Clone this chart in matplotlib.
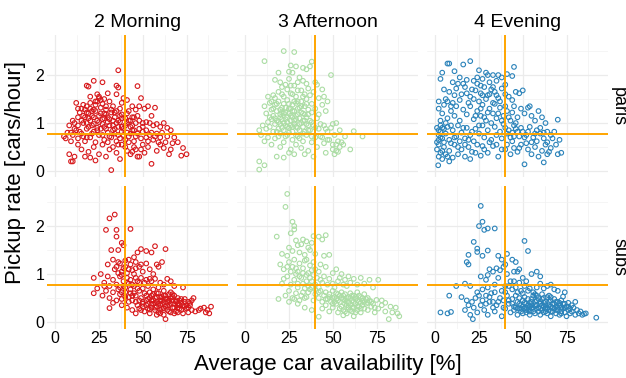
import numpy as np
import matplotlib
matplotlib.use("Agg")
import matplotlib.pyplot as plt
from matplotlib.ticker import MultipleLocator

plt.rcParams['font.family'] = ['Liberation Sans', 'DejaVu Sans']

# facet labels
periods = ["2 Morning", "3 Afternoon", "4 Evening"]
areas = ["paris", "subs"]
period_colors = ["#d7191c", "#abdda4", "#2b83ba"]

# reference lines
avail_ref = 40
rate_ref = 0.78

# (availability %, pickup rate)
paris_morning = [
    (22,1.88),(27,1.85),(18,1.78),(19,1.76),(35,1.78),(36,1.74),(36,2.1),(47,1.77),(24,1.6),(25,1.55),
    (30,1.62),(35,1.6),(39,1.52),(41,1.48),(49,1.52),(25,1.52),(28,1.5),(20,1.55),
    (12,1.42),(15,1.3),(17,1.28),(18,1.35),(20,1.42),(21,1.25),(23,1.38),(24,1.45),(26,1.32),(27,1.4),
    (29,1.28),(31,1.45),(33,1.35),(34,1.22),(37,1.3),(42,1.25),(44,1.35),(46,1.28),(48,1.35),(51,1.3),
    (53,1.35),(57,1.32),(14,1.22),(19,1.2),(22,1.28),(38,1.42),
    (8,0.95),(10,1.05),(11,1.0),(13,1.12),(15,1.05),(16,1.15),(18,1.0),(19,1.1),(21,0.95),(22,1.12),
    (24,1.05),(25,1.15),(27,0.98),(28,1.1),(29,1.18),(30,1.02),(31,1.08),(33,0.95),(34,1.12),(35,1.0),
    (36,1.05),(37,1.15),(38,0.92),(40,1.1),(41,1.0),(43,1.05),(44,0.95),(45,1.12),(46,1.0),(48,1.05),
    (50,0.92),(52,1.02),(54,1.0),(56,0.95),(58,0.98),(60,0.92),(62,1.0),(64,0.9),(66,0.85),(55,1.15),
    (5,0.72),(6,0.68),(7,0.8),(9,0.62),(10,0.75),(12,0.85),(13,0.68),(15,0.78),(17,0.62),(18,0.88),
    (20,0.7),(22,0.82),(23,0.6),(25,0.75),(26,0.88),(28,0.65),(30,0.8),(32,0.7),(33,0.85),(35,0.62),
    (36,0.75),(38,0.82),(40,0.65),(41,0.8),(42,0.72),(44,0.85),(45,0.62),(47,0.78),(49,0.68),(50,0.82),
    (52,0.7),(54,0.75),(56,0.65),(58,0.78),(60,0.7),(63,0.6),(67,0.58),(30,0.6),
    (8,0.35),(9,0.2),(10,0.2),(11,0.3),(13,0.55),(15,0.45),(17,0.3),(19,0.4),(20,0.28),(22,0.5),
    (23,0.22),(25,0.35),(27,0.55),(29,0.3),(31,0.45),(33,0.5),(35,0.38),(37,0.25),(38,0.55),(41,0.42),
    (43,0.35),(45,0.5),(47,0.3),(49,0.45),(51,0.38),(53,0.5),(55,0.15),(58,0.42),(60,0.55),(62,0.48),
    (65,0.35),(66,0.45),(70,0.6),(73,0.48),(75,0.35),(72,0.32),(32,0.02),(44,0.4),(48,0.3),
    (16,1.0),(17,1.12),(18,1.22),(19,0.92),(20,1.05),(21,1.15),(22,0.98),(23,1.25),(24,0.9),(25,1.02),
    (26,1.2),(27,1.08),(28,0.92),(29,1.35),(30,1.12),(31,0.95),(32,1.22),(33,1.05),(34,0.88),(35,1.25),
    (36,0.92),(37,1.02),(38,1.18),(39,0.88),(40,0.95),(41,1.2),(42,1.05),(43,0.92),(44,1.12),(45,0.85),
    (14,0.82),(16,0.72),(18,0.7),(21,0.78),(24,0.85),(27,0.75),(29,0.88),(31,0.72),(34,0.78),(37,0.68),
    (39,0.75),(43,0.78),(46,0.72),(48,0.88),(11,0.88),(9,0.8),(13,0.95),(20,1.3),(23,1.45),(26,1.48),
    (32,1.28),(16,1.38),(13,1.3),(28,1.2),(38,1.1),(47,1.15),(50,1.0),(52,0.85),(55,0.8),(57,0.72),
    (61,0.8),(59,0.6),(64,0.72),(68,0.7),(36,0.55),(40,0.5),(42,0.6),(46,0.45),(50,0.55),(53,0.62),
]

paris_afternoon = [
    (22,2.5),(28,2.48),(11,2.29),(38,2.28),(49,2.0),(26,2.2),(29,2.18),(33,2.15),(35,2.12),(37,2.18),
    (19,2.05),(27,2.05),(25,2.07),
    (17,1.9),(20,1.85),(23,1.8),(25,1.92),(28,1.78),(30,1.85),(31,1.95),(33,1.88),(35,1.82),(36,1.72),
    (40,1.85),(41,1.8),(44,1.7),(13,1.55),(16,1.58),(19,1.65),(21,1.6),(24,1.7),(26,1.62),(29,1.55),
    (32,1.68),(34,1.6),(37,1.58),(39,1.65),(45,1.55),(42,1.52),
    (11,1.35),(12,1.2),(14,1.42),(15,1.28),(16,1.15),(17,1.38),(18,1.25),(19,1.45),(20,1.18),(21,1.32),
    (22,1.4),(23,1.22),(24,1.48),(25,1.3),(26,1.15),(27,1.38),(28,1.25),(29,1.42),(30,1.18),(31,1.32),
    (32,1.45),(33,1.2),(34,1.35),(35,1.12),(36,1.28),(38,1.4),(40,1.3),(42,1.18),(44,1.38),(46,1.25),
    (47,1.45),(20,1.12),(24,1.12),
    (10,0.95),(12,0.88),(13,1.02),(14,0.92),(15,1.08),(16,0.82),(17,0.98),(18,1.05),(19,0.88),(20,0.98),
    (21,1.08),(22,0.85),(23,0.95),(24,1.02),(25,0.9),(26,1.05),(27,0.82),(28,0.98),(29,1.08),(30,0.9),
    (31,0.85),(32,1.0),(33,0.92),(34,1.05),(36,0.95),(37,0.85),(38,1.02),(40,0.9),(42,0.88),(45,0.95),
    (47,0.82),(50,0.98),(52,1.0),(49,0.9),(54,0.85),(62,0.83),(8,0.85),
    (9,0.75),(11,0.62),(13,0.7),(15,0.55),(17,0.68),(19,0.72),(20,0.5),(22,0.6),(24,0.75),(26,0.45),
    (27,0.65),(29,0.55),(30,0.72),(32,0.48),(33,0.62),(35,0.75),(36,0.42),(38,0.6),(40,0.7),(41,0.5),
    (43,0.72),(45,0.58),(47,0.65),(50,0.45),(52,0.55),(53,0.4),(55,0.6),(60,0.45),(67,0.72),(57,0.72),
    (54,0.5),
    (8,0.03),(8,0.2),(11,0.12),(18,0.3),(22,0.28),(25,0.38),(28,0.35),(34,0.35),(39,0.3),(46,0.38),
    (51,0.35),
    (16,1.3),(17,1.1),(18,1.4),(19,1.02),(20,1.28),(21,1.22),(22,1.0),(22,1.2),(23,1.32),(23,1.08),
    (24,0.92),(25,1.2),(25,1.4),(26,1.3),(26,0.95),(27,1.12),(27,1.25),(28,1.05),(28,1.45),(29,1.15),
    (29,0.92),(30,1.3),(30,1.45),(31,1.1),(31,0.98),(32,1.22),(32,1.35),(33,1.05),(34,1.18),(34,0.82),
    (35,1.4),(35,0.98),(36,1.18),(37,1.05),(38,1.22),(39,0.95),(18,0.82),(20,0.78),(21,0.9),(23,0.72),
    (25,0.8),(27,0.92),(29,0.75),(31,0.68),(33,0.78),(36,0.85),(38,0.72),(14,1.12),(15,1.45),(17,1.52),
    (22,1.55),(27,1.6),(30,1.68),(33,1.55),(21,1.75),(26,1.78),(35,1.5),(41,1.1),(43,0.98),(44,0.7),
    (46,0.88),(48,0.65),(51,0.75),(53,0.62),(56,0.55),(52,0.42),(50,0.55),
]

paris_evening = [
    (7,2.24),(8,2.24),(16,2.22),(20,2.29),(45,2.17),(4,2.05),(11,2.08),(25,2.1),(29,2.05),(33,2.0),
    (36,2.0),(38,1.95),(41,2.02),(44,1.98),(14,1.95),(18,1.9),(22,1.88),(27,1.92),(31,1.85),(10,1.85),
    (3,1.92),(13,1.82),(35,1.88),(40,1.8),(24,1.82),
    (5,1.7),(8,1.65),(12,1.72),(15,1.6),(17,1.75),(20,1.55),(23,1.68),(26,1.62),(28,1.75),(30,1.58),
    (32,1.7),(34,1.65),(36,1.52),(38,1.72),(40,1.6),(42,1.55),(46,1.65),(48,1.62),(50,1.68),(2,1.45),
    (6,1.5),(10,1.42),(14,1.48),(19,1.42),(25,1.45),(29,1.5),(33,1.42),(37,1.45),(44,1.48),(21,1.7),
    (2,1.3),(4,1.2),(5,1.38),(7,1.1),(9,1.25),(11,1.15),(12,1.35),(14,1.05),(16,1.28),(18,1.18),
    (20,1.35),(22,1.08),(24,1.25),(26,1.15),(27,1.38),(29,1.05),(31,1.3),(33,1.2),(35,1.1),(37,1.32),
    (39,1.15),(41,1.25),(43,1.05),(45,1.35),(47,1.12),(49,1.3),(51,1.2),(53,1.32),(55,1.15),(57,1.05),
    (59,1.25),(61,1.12),(63,1.0),(70,1.07),(54,1.35),(46,1.0),
    (1,0.9),(2,0.75),(3,0.82),(3,0.95),(4,0.68),(5,0.88),(6,0.78),(7,0.92),(8,0.65),(10,0.85),
    (12,0.72),(13,0.95),(15,0.8),(17,0.68),(18,0.9),(20,0.75),(22,0.62),(23,0.88),(25,0.78),(27,0.95),
    (28,0.7),(30,0.85),(32,0.65),(34,0.92),(35,0.75),(37,0.82),(38,0.68),(40,0.9),(41,0.78),(42,0.85),
    (43,0.7),(44,0.8),(46,0.88),(48,0.72),(50,0.82),(52,0.75),(54,0.92),(56,0.7),(58,0.85),(60,0.78),
    (62,0.68),(64,0.82),(66,0.75),(68,0.82),(71,0.65),(39,0.98),(45,0.95),
    (1,0.45),(2,0.3),(2,0.55),(3,0.38),(4,0.25),(5,0.5),(6,0.35),(8,0.42),(10,0.28),(11,0.55),
    (13,0.35),(15,0.45),(17,0.3),(19,0.5),(21,0.4),(24,0.55),(26,0.32),(28,0.45),(30,0.38),(33,0.52),
    (36,0.3),(38,0.45),(41,0.55),(43,0.35),(45,0.48),(47,0.4),(49,0.55),(51,0.14),(53,0.45),(55,0.35),
    (57,0.5),(59,0.3),(61,0.42),(62,0.18),(64,0.35),(66,0.48),(70,0.35),(1.7,0.12),(8,0.2),
    (2,0.85),(2,0.65),(3,0.7),(4,0.9),(5,0.6),(6,1.0),(3,1.05),(1,0.6),(9,0.95),(11,0.7),
    (14,0.62),(16,0.9),(19,0.65),(21,0.82),(23,1.15),(25,0.95),(26,1.3),(28,1.12),(30,1.22),(32,1.0),
    (34,1.4),(36,1.2),(38,1.05),(40,1.35),(42,1.12),(44,1.22),(45,0.72),(47,0.82),(49,0.9),(51,0.7),
    (53,0.82),(55,0.6),(57,0.78),(58,0.62),(60,0.9),(62,0.8),(64,0.6),(67,0.68),(69,0.55),(72,0.38),
    (63,0.55),(65,0.4),(52,0.58),(48,0.48),(44,0.62),(40,0.45),(35,0.55),(31,0.6),(27,0.52),(23,0.38),
    (20,0.25),(17,0.55),(13,0.5),(9,0.58),(7,0.3),(4,0.42),(33,1.75),(30,2.0),(27,1.58),(22,1.5),
    (18,1.62),(24,1.95),(35,1.58),(31,1.6),(26,1.78),(16,1.82),(11,1.58),(9,1.35),(7,1.45),
]

subs_morning = [
    (34,2.24),(31,2.16),(29,1.92),(35,1.92),(43,1.94),(35,1.78),(38,1.65),(39,1.6),(32,1.5),(36,1.5),
    (49,1.52),(52,1.48),(57,1.58),(63,1.52),(47,1.45),(55,1.45),(45,1.35),(42,1.3),(40,1.28),(33,1.3),
    (37,1.22),(35,1.15),
    (30,1.2),(34,1.1),(36,1.25),(38,1.05),(40,1.15),(41,1.02),(43,1.2),(44,1.08),(46,1.25),(48,1.15),
    (50,1.05),(52,1.22),(54,1.1),(56,1.0),(58,1.2),(59,1.15),(61,1.25),(45,1.0),(39,1.12),
    (22,0.92),(26,1.0),(28,0.82),(30,0.95),(31,0.75),(33,0.88),(35,0.78),(37,0.95),(39,0.85),(40,0.72),
    (41,0.92),(42,0.8),(43,0.88),(45,0.75),(46,0.92),(48,0.82),(50,0.7),(52,0.88),(53,0.75),(55,0.85),
    (57,0.9),(59,0.72),(60,0.82),(62,0.78),(64,0.9),(66,0.85),(68,0.75),(73,0.72),(37,0.72),(47,0.7),
    (22,0.6),(24,0.7),(27,0.55),(29,0.65),(31,0.5),(33,0.62),(35,0.45),(37,0.58),(38,0.48),(40,0.62),
    (42,0.52),(43,0.68),(44,0.45),(45,0.6),(46,0.55),(48,0.65),(49,0.5),(50,0.42),(51,0.6),(52,0.55),
    (53,0.48),(54,0.62),(55,0.45),(56,0.58),(57,0.5),(58,0.42),(59,0.6),(60,0.52),(61,0.45),(62,0.55),
    (63,0.48),(64,0.42),(65,0.58),(66,0.5),(67,0.45),(68,0.55),(69,0.42),(70,0.5),(71,0.45),(72,0.4),
    (74,0.48),(76,0.42),(78,0.45),(79,0.5),(56,0.68),(62,0.65),(66,0.62),
    (31,0.29),(38,0.35),(41,0.3),(44,0.25),(46,0.18),(47,0.35),(48,0.28),(50,0.32),(51,0.22),(52,0.35),
    (53,0.28),(54,0.18),(55,0.3),(56,0.38),(57,0.25),(58,0.32),(59,0.2),(60,0.35),(61,0.28),(62,0.15),
    (63,0.06),(63,0.32),(64,0.25),(65,0.35),(66,0.2),(67,0.3),(68,0.38),(69,0.22),(70,0.3),(71,0.35),
    (72,0.25),(73,0.18),(74,0.32),(75,0.28),(76,0.2),(77,0.35),(78,0.25),(80,0.22),(82,0.25),(83,0.28),
    (85,0.3),(86,0.2),(88,0.18),(89,0.32),(87,0.25),(60,0.18),(58,0.15),
    (50,0.38),(52,0.45),(53,0.38),(54,0.5),(55,0.38),(56,0.45),(57,0.4),(58,0.52),(59,0.38),(60,0.45),
    (61,0.38),(62,0.42),(63,0.55),(64,0.35),(65,0.45),(66,0.38),(67,0.52),(68,0.3),(69,0.45),(70,0.38),
    (71,0.28),(72,0.48),(73,0.35),(74,0.42),(75,0.35),(76,0.3),(77,0.4),(55,0.55),(58,0.6),(61,0.52),
    (64,0.48),(67,0.58),(60,0.25),(62,0.28),(65,0.22),(68,0.18),(70,0.2),(57,0.3),(54,0.26),(49,0.25),
    (46,0.42),(44,0.55),(42,0.42),(40,0.52),(38,0.62),(36,0.68),(39,0.75),(41,0.82),(44,0.78),(47,0.85),
    (49,0.92),(51,0.82),(54,0.9),(36,1.02),(38,0.98),(42,1.1),(46,1.12),(49,1.2),(43,0.6),(48,0.45),
    (33,0.4),(28,0.75),
]

subs_afternoon = [
    (24,2.67),(23,2.4),(27,2.09),(28,2.0),(28,1.93),(18,1.78),(26,1.85),(46,1.81),(42,1.78),(39,1.79),
    (44,1.72),(29,1.7),(33,1.72),(35,1.68),(30,1.6),(32,1.62),(36,1.55),(38,1.65),(25,1.55),(27,1.48),
    (31,1.45),(34,1.4),(37,1.5),(40,1.42),(45,1.38),(48,1.4),(21,1.42),(24,1.38),
    (20,1.2),(22,1.1),(25,1.25),(27,1.15),(28,1.3),(30,1.05),(31,1.22),(33,1.12),(34,1.28),(36,1.02),
    (37,1.18),(39,1.25),(40,1.1),(42,1.05),(43,1.2),(46,1.15),(50,1.02),(52,1.1),(55,1.0),(29,1.0),
    (35,1.3),
    (21,0.8),(22,0.9),(24,0.95),(26,0.78),(28,0.88),(30,0.72),(32,0.92),(33,0.8),(35,0.98),(36,0.75),
    (38,0.85),(40,0.78),(41,0.92),(42,0.72),(44,0.82),(45,0.95),(47,0.78),(48,0.9),(50,0.8),(51,0.72),
    (53,0.85),(54,0.92),(56,0.78),(57,0.88),(58,0.75),(60,0.82),(62,0.9),(64,0.78),(66,0.92),(68,0.8),
    (71,0.88),(76,0.88),(73,0.72),(59,0.95),
    (19,0.48),(23,0.55),(25,0.65),(27,0.5),(29,0.6),(31,0.45),(33,0.62),(35,0.52),(37,0.68),(39,0.45),
    (40,0.58),(42,0.5),(43,0.65),(44,0.42),(45,0.55),(46,0.62),(47,0.48),(48,0.58),(49,0.42),(50,0.65),
    (51,0.52),(52,0.6),(53,0.45),(54,0.55),(55,0.62),(56,0.48),(57,0.58),(58,0.42),(59,0.52),(60,0.6),
    (61,0.45),(62,0.55),(63,0.48),(64,0.62),(65,0.42),(66,0.52),(67,0.45),(68,0.58),(70,0.5),(72,0.42),
    (75,0.46),(78,0.45),(80,0.4),
    (30,0.38),(34,0.3),(38,0.25),(42,0.11),(44,0.28),(46,0.35),(48,0.22),(50,0.3),(52,0.38),(53,0.2),
    (55,0.32),(56,0.25),(57,0.38),(58,0.18),(59,0.3),(60,0.35),(61,0.22),(62,0.3),(63,0.38),(64,0.25),
    (65,0.32),(66,0.2),(67,0.35),(68,0.28),(69,0.38),(70,0.25),(72,0.32),(74,0.2),(76,0.28),(78,0.35),
    (80,0.22),(82,0.06),(84,0.2),(86,0.3),(88,0.12),(87,0.18),(83,0.32),(62,0.12),(56,0.14),
    (46,0.48),(48,0.52),(50,0.5),(51,0.42),(52,0.48),(53,0.58),(54,0.42),(55,0.5),(56,0.55),(57,0.45),
    (58,0.5),(59,0.4),(60,0.5),(61,0.55),(62,0.42),(63,0.52),(64,0.45),(65,0.55),(66,0.4),(67,0.5),
    (68,0.42),(69,0.48),(70,0.4),(71,0.45),(73,0.38),(74,0.3),(50,0.38),(54,0.28),(58,0.35),(61,0.3),
    (64,0.32),(66,0.28),(60,0.25),(63,0.2),(57,0.22),(42,0.62),(40,0.68),(38,0.72),(36,0.62),(34,0.7),
    (32,0.55),(30,0.8),(35,0.85),(37,0.92),(39,0.98),(43,0.88),(31,0.95),(33,1.02),(29,1.12),(26,1.05),
    (24,1.15),(38,1.08),(34,0.5),(28,0.48),(25,0.42),
]

subs_evening = [
    (26,2.42),(27,2.09),(25,2.0),(30,1.95),(34,1.95),(28,1.92),(22,1.67),(24,1.53),(24,1.46),(51,1.69),
    (53,1.48),(30,1.49),(19,1.4),(18,1.25),(19,1.2),(36,1.38),(38,1.3),(41,1.42),(44,1.3),(46,1.25),
    (33,1.05),(35,1.12),(37,1.08),(39,1.15),(41,1.0),(47,1.05),(48,1.1),(50,0.92),(55,1.0),(58,1.05),
    (60,0.95),(17,0.8),(26,0.95),(29,0.88),(36,0.92),(45,0.85),(48,0.82),(52,0.85),
    (12,0.75),(20,0.75),(24,0.62),(27,0.68),(30,0.72),(32,0.6),(34,0.78),(38,0.65),(40,0.62),(42,0.75),
    (44,0.68),(46,0.72),(49,0.65),(51,0.75),(54,0.7),(56,0.62),(58,0.72),(60,0.8),(62,0.7),(64,0.75),
    (66,0.78),(68,0.68),(70,0.65),(74,0.62),
    (8,0.55),(15,0.52),(18,0.45),(21,0.42),(23,0.5),(25,0.55),(27,0.45),(29,0.38),(31,0.52),(33,0.42),
    (35,0.35),(37,0.5),(39,0.45),(41,0.55),(42,0.38),(44,0.48),(45,0.32),(46,0.55),(47,0.42),(48,0.5),
    (49,0.35),(50,0.45),(51,0.52),(52,0.38),(53,0.48),(54,0.32),(55,0.42),(56,0.55),(57,0.35),(58,0.45),
    (59,0.5),(60,0.38),(61,0.48),(62,0.32),(63,0.42),(64,0.52),(65,0.35),(66,0.45),(67,0.38),(68,0.48),
    (69,0.32),(70,0.42),(71,0.35),(72,0.45),(73,0.53),(74,0.38),(75,0.32),(76,0.4),(78,0.35),(80,0.42),
    (57,0.58),(61,0.58),(65,0.55),
    (3,0.2),(7,0.18),(9,0.21),(17,0.25),(20,0.15),(21.5,0.06),(24,0.2),(28,0.25),(30,0.15),(34,0.22),
    (38,0.12),(40,0.28),(43,0.2),(45,0.25),(47,0.15),(48,0.28),(49,0.22),(50,0.18),(51,0.28),(52,0.2),
    (53,0.25),(54,0.15),(55,0.28),(56,0.22),(57,0.18),(58,0.28),(59,0.22),(60,0.15),(61,0.25),(62,0.2),
    (63,0.28),(64,0.18),(65,0.25),(66,0.12),(67,0.22),(68,0.28),(69,0.18),(70,0.25),(71,0.15),(72,0.22),
    (73,0.28),(74,0.2),(75,0.12),(76,0.25),(77,0.18),(78,0.22),(80,0.15),(82,0.18),(84,0.15),(85,0.17),
    (92,0.09),
    (46,0.3),(47,0.28),(48,0.38),(49,0.28),(50,0.32),(51,0.4),(52,0.3),(53,0.35),(54,0.4),(55,0.35),
    (56,0.3),(57,0.42),(58,0.35),(59,0.3),(60,0.42),(61,0.35),(62,0.4),(63,0.35),(64,0.3),(65,0.42),
    (66,0.32),(67,0.3),(68,0.38),(69,0.42),(70,0.3),(71,0.4),(72,0.3),(73,0.38),(74,0.3),(76,0.32),
    (77,0.28),(79,0.3),(81,0.25),(83,0.22),(86,0.18),(55,0.48),(58,0.55),(62,0.5),(66,0.52),(60,0.28),
    (63,0.22),(66,0.22),(69,0.25),(72,0.18),(52,0.25),(54,0.22),(44,0.38),(42,0.45),(39,0.3),(36,0.42),
    (33,0.3),(31,0.42),(26,0.35),(22,0.3),(19,0.35),(29,0.55),(34,0.62),(40,0.75),(43,0.85),(47,0.62),
    (50,0.6),(53,0.65),(45,1.05),(40,1.2),(31,1.1),(27,1.38),(30,0.98),
]

panels = {
    ("paris", 0): paris_morning, ("paris", 1): paris_afternoon, ("paris", 2): paris_evening,
    ("subs", 0): subs_morning, ("subs", 1): subs_afternoon, ("subs", 2): subs_evening,
}

fig = plt.figure(figsize=(6.26, 3.78), dpi=100)
lefts = [47 / 626, 237 / 626, 427 / 626]
bottoms = [1 - 177.5 / 378, 1 - 328.5 / 378]
w, h = 181 / 626, 142.5 / 378

for r, area in enumerate(areas):
    for c, period in enumerate(periods):
        ax = fig.add_axes([lefts[c], bottoms[r], w, h])
        pts = np.array(panels[(area, c)])
        ax.set_xlim(-4.7, 98.7)
        ax.set_ylim(-0.135, 2.835)
        ax.xaxis.set_major_locator(MultipleLocator(25))
        ax.xaxis.set_minor_locator(MultipleLocator(12.5))
        ax.yaxis.set_major_locator(MultipleLocator(1))
        ax.yaxis.set_minor_locator(MultipleLocator(0.5))
        ax.grid(True, which="major", color="#ebebeb", lw=0.9)
        ax.grid(True, which="minor", color="#f2f2f2", lw=0.5)
        ax.set_axisbelow(True)
        for s in ax.spines.values():
            s.set_visible(False)
        ax.tick_params(which="both", length=0, labelsize=11.5, colors="black", pad=2)
        if c > 0:
            ax.tick_params(labelleft=False)
        if r == 0:
            ax.tick_params(labelbottom=False)
            ax.set_title(period, fontsize=14, pad=6)
        ax.scatter(pts[:, 0], pts[:, 1], s=11, facecolors="none",
                   edgecolors=period_colors[c], linewidths=0.8, zorder=2)
        ax.axvline(avail_ref, color="#FFA500", lw=1.4, zorder=3)
        ax.axhline(rate_ref, color="#FFA500", lw=1.4, zorder=3)
        if c == 2:
            ax.text(1.012, 0.5, area, transform=ax.transAxes, rotation=270,
                    ha="left", va="center", fontsize=13)

fig.text(0.5 * (lefts[0] + lefts[2] + w), 8 / 378, "Average car availability [%]",
         ha="center", va="baseline", fontsize=16)
fig.text(0.008, 1 - 172 / 378, "Pickup rate [cars/hour]",
         ha="left", va="center", rotation=90, fontsize=16)

fig.savefig("out.png", dpi=100)
